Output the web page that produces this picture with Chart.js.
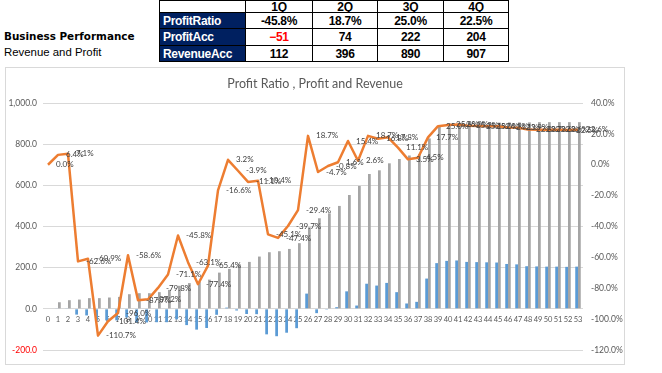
<!DOCTYPE html>
<html><head><meta charset="utf-8">
<script src="https://cdn.jsdelivr.net/npm/chart.js@4.4.1/dist/chart.umd.min.js"></script>
<style>
html,body{margin:0;padding:0;background:#fff;width:662px;height:373px;overflow:hidden;position:relative;}
#h1{position:absolute;left:4px;top:30px;font:bold 10.4px "DejaVu Sans",sans-serif;color:#000;white-space:nowrap;}
#h2{position:absolute;left:4px;top:46px;font:11.4px "Liberation Sans",Arial,sans-serif;color:#000;white-space:nowrap;}
.c{position:absolute;box-sizing:border-box;border:1px solid #000;font:bold 12px "Liberation Sans",Arial,sans-serif;letter-spacing:-0.3px;white-space:nowrap;overflow:hidden;display:flex;align-items:center;}
#frame{position:absolute;left:5px;top:67px;width:620px;height:298px;border:1px solid #d9d9d9;box-sizing:border-box;}
#cv{position:absolute;left:0;top:67px;}
</style></head>
<body>
<div id="h1">Business Performance</div>
<div id="h2">Revenue and Profit</div>
<div id="tbl"></div>
<div id="frame"></div>
<canvas id="cv" width="630" height="306"></canvas>
<script>
// ---- table data ----
const quarters = ['1Q','2Q','3Q','4Q'];
const rowNames = ['ProfitRatio','ProfitAcc','RevenueAcc'];
const quarterRatio = [-45.8, 18.7, 25.0, 22.5];
const quarterProfit = [-51, 74, 222, 204];
const quarterRevenue = [112, 396, 890, 907];

// ---- chart data ----
const weeks = ['0','1','2','3','4','5','6','7','8','9','10','11','12','13','14','15','16','17','18','19','20','21','22','23','24','25','26','27','28','29','30','31','32','33','34','35','36','37','38','39','40','41','42','43','44','45','46','47','48','49','50','51','52','53'];
const profitAcc = [0,2,3,-28,-32,-58,-56,-56,-42,-67,-66,-65,-65,-51,-79,-101,-93,-29,6,-8,-25,-26,-124,-133,-116,-94,74,-21,-4,8,85,16,122,113,126,81,26,34,147,222,233,235,228,227,226,225,218,216,207,206,205,205,204,205];
const revenueAcc = [0,32,42,45,52,52,55,58,71,76,76,81,92,112,125,131,142,176,194,217,228,254,275,280,291,319,396,440,464,500,553,597,655,673,707,728,745,752,828,890,901,904,904,905,905,905,906,906,906,907,907,907,907,907];
const profitRatio = [0.0,6.4,7.1,-62.6,-60.9,-110.7,-101.4,-96.0,-58.6,-87.7,-87.2,-79.8,-71.1,-45.8,-63.1,-77.4,-65.4,-16.6,3.2,-3.9,-11.1,-10.4,-45.1,-47.4,-39.7,-29.4,18.7,-4.7,-0.8,1.6,15.4,2.6,18.7,16.8,17.8,11.1,3.5,4.5,17.7,25.0,25.8,26.0,25.2,25.1,25.0,24.9,24.1,23.9,22.8,22.7,22.6,22.6,22.5,22.6];

// ---- build table ----
(function(){
  const colX=[159,245,312,377,443,508];
  const rowY=[0,12,28,45,61];
  const tbl=document.getElementById('tbl');
  function cell(c,r,text,bg,color,align){
    const d=document.createElement('div');
    d.className='c';
    d.style.left=colX[c]+'px'; d.style.top=rowY[r]+'px';
    d.style.width=(colX[c+1]-colX[c]+1)+'px'; d.style.height=(rowY[r+1]-rowY[r]+1)+'px';
    d.style.background=bg; d.style.color=color;
    d.style.justifyContent=align;
    if(align==='flex-start') d.style.paddingLeft='3px';
    d.textContent=text;
    tbl.appendChild(d);
  }
  cell(0,0,'','#fff','#000','center');
  quarters.forEach((q,i)=>cell(i+1,0,q,'#fff','#000','center'));
  rowNames.forEach((n,r)=>cell(0,r+1,n,'#002060','#fff','flex-start'));
  quarterRatio.forEach((v,i)=>cell(i+1,1,v.toFixed(1)+'%','#fff','#000','center'));
  quarterProfit.forEach((v,i)=>cell(i+1,2,String(v).replace('-','−'),'#fff',v<0?'#ff0000':'#000','center'));
  quarterRevenue.forEach((v,i)=>cell(i+1,3,String(v),'#fff','#000','center'));
})();

// ---- data label plugin ----
const lineLabels = {
  id:'lineLabels',
  afterDatasetsDraw(chart){
    const meta = chart.getDatasetMeta(2);
    const ctx = chart.ctx;
    ctx.save();
    ctx.font = '8px Lato, "Liberation Sans", sans-serif';
    ctx.fillStyle = '#404040';
    ctx.textAlign = 'left';
    ctx.textBaseline = 'middle';
    meta.data.forEach((pt,i)=>{
      ctx.fillText(profitRatio[i].toFixed(1)+'%', pt.x+8, pt.y);
    });
    ctx.restore();
  }
};

const FONT = 'Lato, "Liberation Sans", sans-serif';
new Chart(document.getElementById('cv'), {
  type:'bar',
  data:{
    labels: weeks,
    datasets:[
      {label:'Profit Acc', data: profitAcc, backgroundColor:'#5B9BD5', yAxisID:'y', order:2, barPercentage:1.0, categoryPercentage:0.55},
      {label:'Revenue Acc', data: revenueAcc, backgroundColor:'#A5A5A5', yAxisID:'y', order:3, barPercentage:1.0, categoryPercentage:0.55},
      {type:'line', label:'Profit Ratio', data: profitRatio, borderColor:'#ED7D31', backgroundColor:'#ED7D31', borderWidth:2.5, pointRadius:0, tension:0, yAxisID:'y1', order:1, borderJoinStyle:'round'}
    ]
  },
  options:{
    responsive:false,
    animation:false,
    devicePixelRatio:1,
    layout:{padding:{left:0,right:0,top:0,bottom:23}},
    plugins:{
      legend:{display:false},
      tooltip:{enabled:false},
      title:{display:true, text:'Profit Ratio , Profit and Revenue', color:'#595959',
        font:{family:FONT, size:12.5, weight:'normal'},
        padding:{top:9,bottom:12}}
    },
    scales:{
      x:{
        type:'category',
        position:{y:0},
        grid:{display:false, drawTicks:false},
        border:{display:false},
        ticks:{autoSkip:false, maxRotation:0, minRotation:0, padding:6, color:'#595959',
          font:{family:FONT, size:7.5}},
        afterFit(s){ s.height = 0; }
      },
      y:{
        position:'left', min:-200, max:1000,
        ticks:{stepSize:200, padding:6, color:(c)=> c.tick && c.tick.value<0 ? '#ff0000' : '#595959',
          font:{family:FONT, size:8.5},
          callback:(v)=> Number(v).toLocaleString('en-US',{minimumFractionDigits:1, maximumFractionDigits:1})},
        grid:{color:'#D9D9D9', lineWidth:1, drawTicks:false},
        border:{display:false},
        afterFit(s){ s.width = 43; }
      },
      y1:{
        position:'right', min:-120, max:40,
        ticks:{stepSize:20, padding:8, color:'#595959',
          font:{family:FONT, size:8.5},
          callback:(v)=> Number(v).toFixed(1)+'%'},
        grid:{display:false, drawTicks:false},
        border:{display:false},
        afterFit(s){ s.width = 47; }
      }
    }
  },
  plugins:[lineLabels]
});
</script>
</body></html>
